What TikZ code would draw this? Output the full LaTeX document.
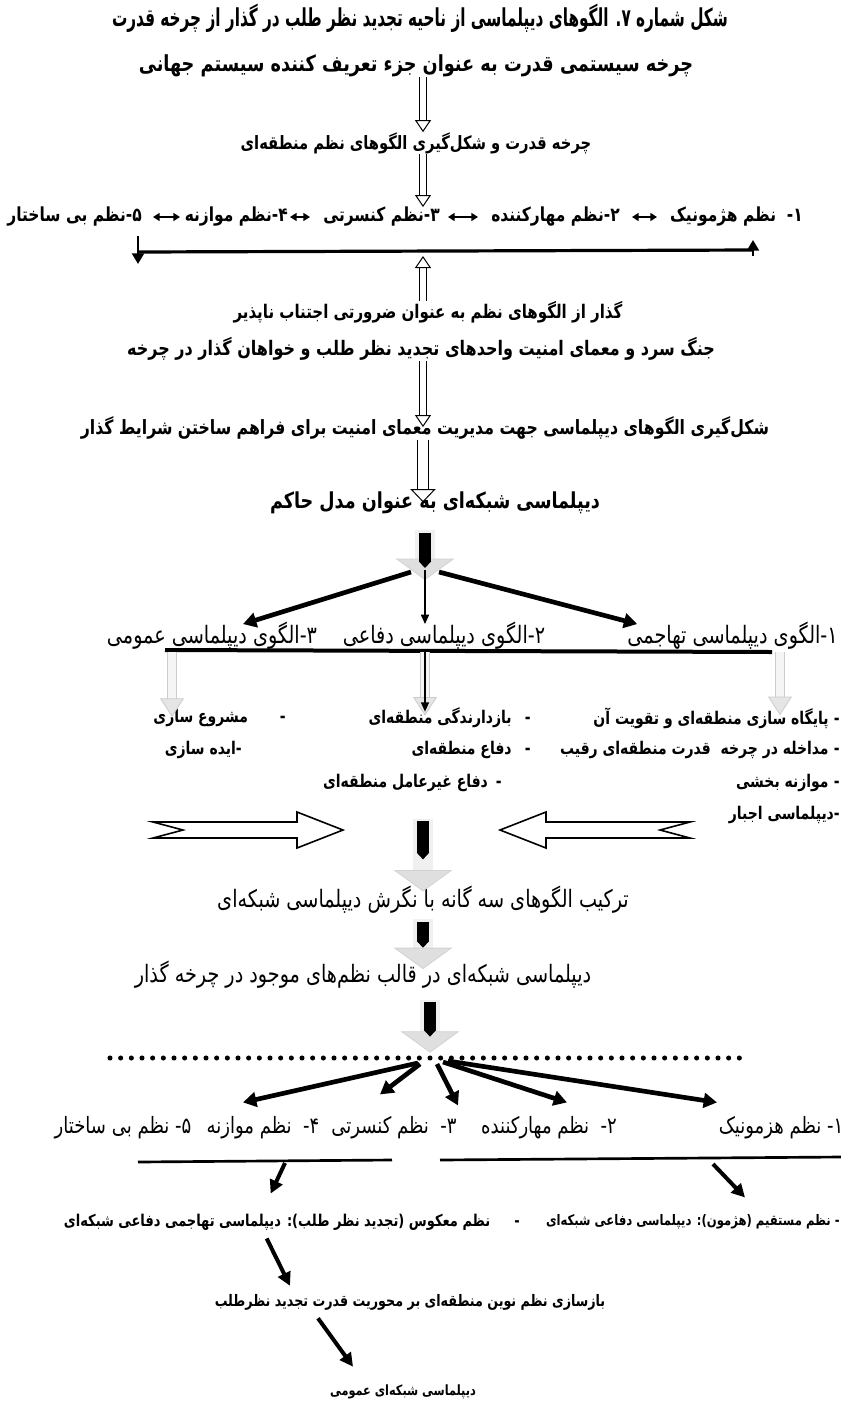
\documentclass[tikz,border=0pt]{standalone}
\usepackage{fontspec}
\newfontfamily\farsi[Script=Arabic, FakeStretch=0.8]{DejaVu Sans}
\newfontfamily\farsihead[Script=Arabic, FakeStretch=0.62]{DejaVu Sans}
\TeXXeTstate=1
\usetikzlibrary{arrows.meta, calc}
\newcommand{\fatext}[1]{\beginR #1\endR}

\begin{document}
\begin{tikzpicture}[x=0.75pt, y=-0.75pt,
  every node/.style={inner sep=0pt},
  titletxt/.style={font=\farsihead\bfseries\fontsize{18.5}{20}\selectfont},
  stagetxt/.style={font=\farsi\bfseries\fontsize{#1}{18}\selectfont},
  stagetxt/.default=15,
  ordertxt/.style={font=\farsi\bfseries\fontsize{14.5}{16}\selectfont},
  patterntxt/.style={font=\farsi\fontsize{18}{20}\selectfont},
  itemtxt/.style={font=\farsi\bfseries\fontsize{13.1}{15}\selectfont},
  mergetxt/.style={font=\farsi\fontsize{18}{20}\selectfont},
  regimetxt/.style={font=\farsi\fontsize{16.9}{19}\selectfont},
  notetxt/.style={font=\farsi\bfseries\fontsize{#1}{14}\selectfont},
  notetxt/.default=11.8,
  hollowarr/.style={draw=black, line width=0.75pt, double=white, double distance=4pt,
    -{Triangle[open, length=9pt, width=12pt, line width=0.75pt]}},
  widehollow/.style={draw=black, line width=0.75pt, double=white, double distance=8pt,
    -{Triangle[open, length=10pt, width=19pt, line width=0.75pt]}},
  biarr/.style={line width=1.2pt, {Triangle[length=5pt, width=6pt]}-{Triangle[length=5pt, width=6pt]}},
  shadehead/.style={line width=15pt, gray!12,
    -{Triangle[length=16pt, width=44pt, fill=gray!25, color=gray!35, line width=0.6pt]}},
  blackbar/.style={line width=9pt, black, -{Triangle[length=5pt, width=9pt]}},
  fanarr/.style={line width=3.5pt, -{Triangle[length=10pt, width=11pt]}},
  thinarr/.style={line width=1.2pt, -{Triangle[length=7pt, width=6pt]}},
  grayarr/.style={draw=gray!40, line width=0.8pt, double=gray!8, double distance=6pt,
    -{Triangle[length=14pt, width=18pt, fill=gray!20, color=gray!40, line width=0.6pt]}},
  sidearr/.style={draw=black, line width=1.2pt, fill=white, line join=miter},
  dotline/.style={line width=3.8pt, line cap=round, dash pattern=on 0pt off 8pt},
  notearr/.style={line width=3pt, -{Triangle[length=10pt, width=10pt]}}
]
\useasboundingbox (0,0) rectangle (841,1404);
\coordinate (axis) at (423,0);

%% title and upper chain
\node[titletxt] (title) at (420,18) {\fatext{شکل شماره ۷. الگوهای دیپلماسی از ناحیه تجدید نظر طلب در گذار از چرخه قدرت}};
\node[stagetxt=16.6] (l1) at (416,66) {\fatext{چرخه سیستمی قدرت به عنوان جزء تعریف کننده سیستم جهانی}};
\node[stagetxt=13.8] (l2) at (416,143) {\fatext{چرخه قدرت و شکل‌گیری الگوهای نظم منطقه‌ای}};

%% order row
\node[ordertxt, anchor=east] (o1) at (803,217) {\fatext{۱-\ \ نظم هژمونیک}};
\node[ordertxt, anchor=east] (o2) at (620,217) {\fatext{۲-نظم مهارکننده}};
\node[ordertxt, anchor=east] (o3) at (440,217) {\fatext{۳-نظم کنسرتی}};
\node[ordertxt, anchor=east] (o4) at (288,217) {\fatext{۴-نظم موازنه}};
\node[ordertxt, anchor=east] (o5) at (142,217) {\fatext{۵-نظم بی ساختار}};
\draw[biarr] ($(o2.east)+(37,0)$) -- ($(o2.east)+(12,0)$);
\draw[biarr] ($(o3.east)+(38,0)$) -- ($(o3.east)+(8,0)$);
\draw[biarr] ($(o4.east)+(22,0)$) -- ($(o4.east)+(2,0)$);
\draw[biarr] ($(o5.east)+(38,0)$) -- ($(o5.east)+(11,0)$);

\coordinate (spanL) at (138,252);
\coordinate (spanR) at (753,250);
\coordinate (spanM) at (423,256);
\draw[line width=2.4pt] (spanL) -- (spanR);
\draw[line width=1.6pt, -{Triangle[length=8pt, width=9pt]}] ($(spanL)+(0,-16)$) -- ($(spanL)+(0,12)$);
\draw[line width=1.6pt, -{Triangle[length=8pt, width=9pt]}] ($(spanR)+(0,6)$) -- ($(spanR)+(0,-10)$);

\draw[hollowarr] (l1.south -| axis) -- (l2.north -| axis);
\draw[hollowarr] (l2.south -| axis) -- (o3.north -| axis);

%% lower chain
\node[stagetxt=14.1] (l3) at (428,312) {\fatext{گذار از الگوهای نظم به عنوان ضرورتی اجتناب ناپذیر}};
\node[stagetxt] (l4) at (421,349) {\fatext{جنگ سرد و معمای امنیت واحدهای تجدید نظر طلب و خواهان گذار در چرخه}};
\node[stagetxt=14.75] (l5) at (425,428) {\fatext{شکل‌گیری الگوهای دیپلماسی جهت مدیریت معمای امنیت برای فراهم ساختن شرایط گذار}};
\node[stagetxt=16.5] (l6) at (435,503) {\fatext{دیپلماسی شبکه‌ای به عنوان مدل حاکم}};

\draw[hollowarr] (l3.north -| axis) -- (spanM);
\draw[hollowarr, shorten >=-8pt] (l4.south -| axis) -- (l5.north -| axis);
\draw[widehollow, shorten >=-8pt] (l5.south -| axis) -- (l6.north -| axis);

%% three patterns
\coordinate (hub1) at (425,580);
\draw[shadehead, shorten <=12pt] (l6.south -| hub1) -- (hub1);
\draw[blackbar, shorten <=14pt] (l6.south -| hub1) -- ($(hub1)+(0,-12)$);

\node[patterntxt, anchor=east] (pat1) at (838,636) {\fatext{۱-الگوی دیپلماسی تهاجمی}};
\node[patterntxt] (pat2) at (444,636) {\fatext{۲-الگوی دیپلماسی دفاعی}};
\node[patterntxt] (pat3) at (212,636) {\fatext{۳-الگوی دیپلماسی عمومی}};

\draw[fanarr] ($(hub1)+(-14,-8)$) -- ($(pat3.north)+(31,2)$);
\draw[thinarr] ($(hub1)+(0,-10)$) -- ($(pat2.north -| hub1)+(0,2)$);
\draw[fanarr] ($(hub1)+(14,-8)$) -- ($(pat1.north west)+(10,2)$);

\coordinate (barL) at (165,650);
\coordinate (barR) at (772,652);
\draw[line width=3pt] (barL) -- (barR);
\coordinate (drop1) at (780,652);
\coordinate (drop2) at (425,652);
\coordinate (drop3) at (172,652);

%% pattern items
\node[itemtxt, anchor=east] (r1) at (840,718) {\fatext{-\hspace{4pt}پایگاه سازی منطقه‌ای و تقویت آن}};
\node[itemtxt, anchor=east] (r2) at (840,750) {\fatext{-\hspace{4pt}مداخله در چرخه\ \ قدرت منطقه‌ای رقیب}};
\node[itemtxt, anchor=east] (r3) at (840,783) {\fatext{-\hspace{4pt}موازنه بخشی}};
\node[itemtxt, anchor=east] (r4) at (840,815) {\fatext{-دیپلماسی اجبار}};
\node[itemtxt, anchor=east] (m1) at (531,718) {\fatext{-\hspace{10pt}بازدارندگی منطقه‌ای}};
\node[itemtxt, anchor=east] (m2) at (531,750) {\fatext{-\hspace{10pt}دفاع منطقه‌ای}};
\node[itemtxt, anchor=east] (m3) at (502,783) {\fatext{-\hspace{6pt}دفاع غیرعامل منطقه‌ای}};
\node[itemtxt, anchor=east] (c1) at (286,718) {\fatext{-\hspace{24pt}مشروع سازی}};
\node[itemtxt, anchor=east] (c2) at (242,750) {\fatext{-ایده سازی}};

\draw[grayarr, shorten >=-6pt] (drop3) -- (c1.north -| drop3);
\draw[grayarr, shorten >=-6pt] (drop2) -- (m1.north -| drop2);
\draw[thinarr, shorten >=-3pt] (drop2) -- (m1.north -| drop2);
\draw[grayarr, shorten >=-6pt] (drop1) -- (r1.north -| drop1);

%% side arrows
\draw[sidearr] (153,822) -- (297,822) -- (297,812) -- (343,830) -- (297,848)
  -- (297,838) -- (153,838) -- (183,830) -- cycle;
\draw[sidearr] (690,822) -- (546,822) -- (546,812) -- (500,830) -- (546,848)
  -- (546,838) -- (690,838) -- (660,830) -- cycle;

%% merge
\node[mergetxt] (mg1) at (423,900) {\fatext{ترکیب الگوهای سه گانه با نگرش دیپلماسی شبکه‌ای}};
\node[mergetxt] (mg2) at (363,975) {\fatext{دیپلماسی شبکه‌ای در قالب نظم‌های موجود در چرخه گذار}};

\draw[shadehead, shorten <=20pt, shorten >=-4pt] (m3.south -| axis) -- (mg1.north -| axis);
\draw[blackbar, shorten <=22pt, shorten >=20pt] (m3.south -| axis) -- (mg1.north -| axis);
\draw[shadehead, shorten <=4pt, shorten >=-6pt] (mg1.south -| axis) -- (mg2.north -| axis);
\draw[blackbar, shorten <=6pt, shorten >=10pt] (mg1.south -| axis) -- (mg2.north -| axis);

\coordinate (dotL) at (110,1058);
\coordinate (dotR) at (740,1058);
\coordinate (hub2) at (430,1058);
\draw[dotline] (dotL) -- (dotR);
\draw[shadehead, shorten <=8pt, shorten >=4pt] (mg2.south -| hub2) -- (hub2);
\draw[blackbar, shorten <=10pt, shorten >=16pt] (mg2.south -| hub2) -- (hub2);

%% regimes
\node[regimetxt] (g1) at (781,1128) {\fatext{۱- نظم هزمونیک}};
\node[regimetxt] (g2) at (549,1128) {\fatext{۲-\ \ نظم مهارکننده}};
\node[regimetxt] (g3) at (394,1128) {\fatext{۳-\ \ نظم کنسرتی}};
\node[regimetxt] (g4) at (263,1128) {\fatext{۴-\ \ نظم موازنه}};
\node[regimetxt] (g5) at (123,1128) {\fatext{۵- نظم بی ساختار}};

\draw[fanarr] ($(hub2)+(-12,5)$) -- ($(g4.north)+(-20,-14)$);
\draw[fanarr] ($(hub2)+(-10,6)$) -- ($(g3.north)+(-14,-22)$);
\draw[fanarr] ($(hub2)+(7,6)$) -- ($(g3.north)+(64,-11)$);
\draw[fanarr] ($(hub2)+(13,4)$) -- ($(g2.north)+(18,-14)$);
\draw[fanarr] ($(hub2)+(18,3)$) -- ($(g1.north)+(-64,-14)$);

\coordinate (ul2L) at (138,1162);
\coordinate (ul2R) at (392,1160);
\coordinate (ul1L) at (440,1160);
\coordinate (ul1R) at (841,1157);
\draw[line width=2pt] (ul2L) -- (ul2R);
\draw[line width=2pt] (ul1L) -- (ul1R);
\coordinate (cut2) at (285,1163);
\coordinate (cut1) at (713,1164);

%% notes
\node[notetxt=10.9, anchor=east] (n1) at (840,1222) {\fatext{-\ نظم مستقیم (هژمون): دیپلماسی دفاعی شبکه‌ای}};
\node[notetxt=12.2, anchor=east] (n2) at (520,1222) {\fatext{-\hspace{18pt}نظم معکوس (تجدید نظر طلب): دیپلماسی تهاجمی دفاعی شبکه‌ای}};
\node[notetxt=11.9] (s1) at (410,1302) {\fatext{بازسازی نظم نوین منطقه‌ای بر محوریت قدرت تجدید نظرطلب}};
\node[notetxt=10.6] (s2) at (403,1392) {\fatext{دیپلماسی شبکه‌ای عمومی}};

\draw[notearr] (cut2) -- ($(n2.north west)+(207,-20)$);
\draw[notearr] (cut1) -- ($(n1.north east)+(-95,-17)$);
\draw[notearr] ($(n2.south west)+(203,8)$) -- ($(s1.north)+(-120,-8)$);
\draw[notearr] ($(s1.south)+(-92,8)$) -- ($(s2.north)+(-50,-18)$);

\end{tikzpicture}
\end{document}
